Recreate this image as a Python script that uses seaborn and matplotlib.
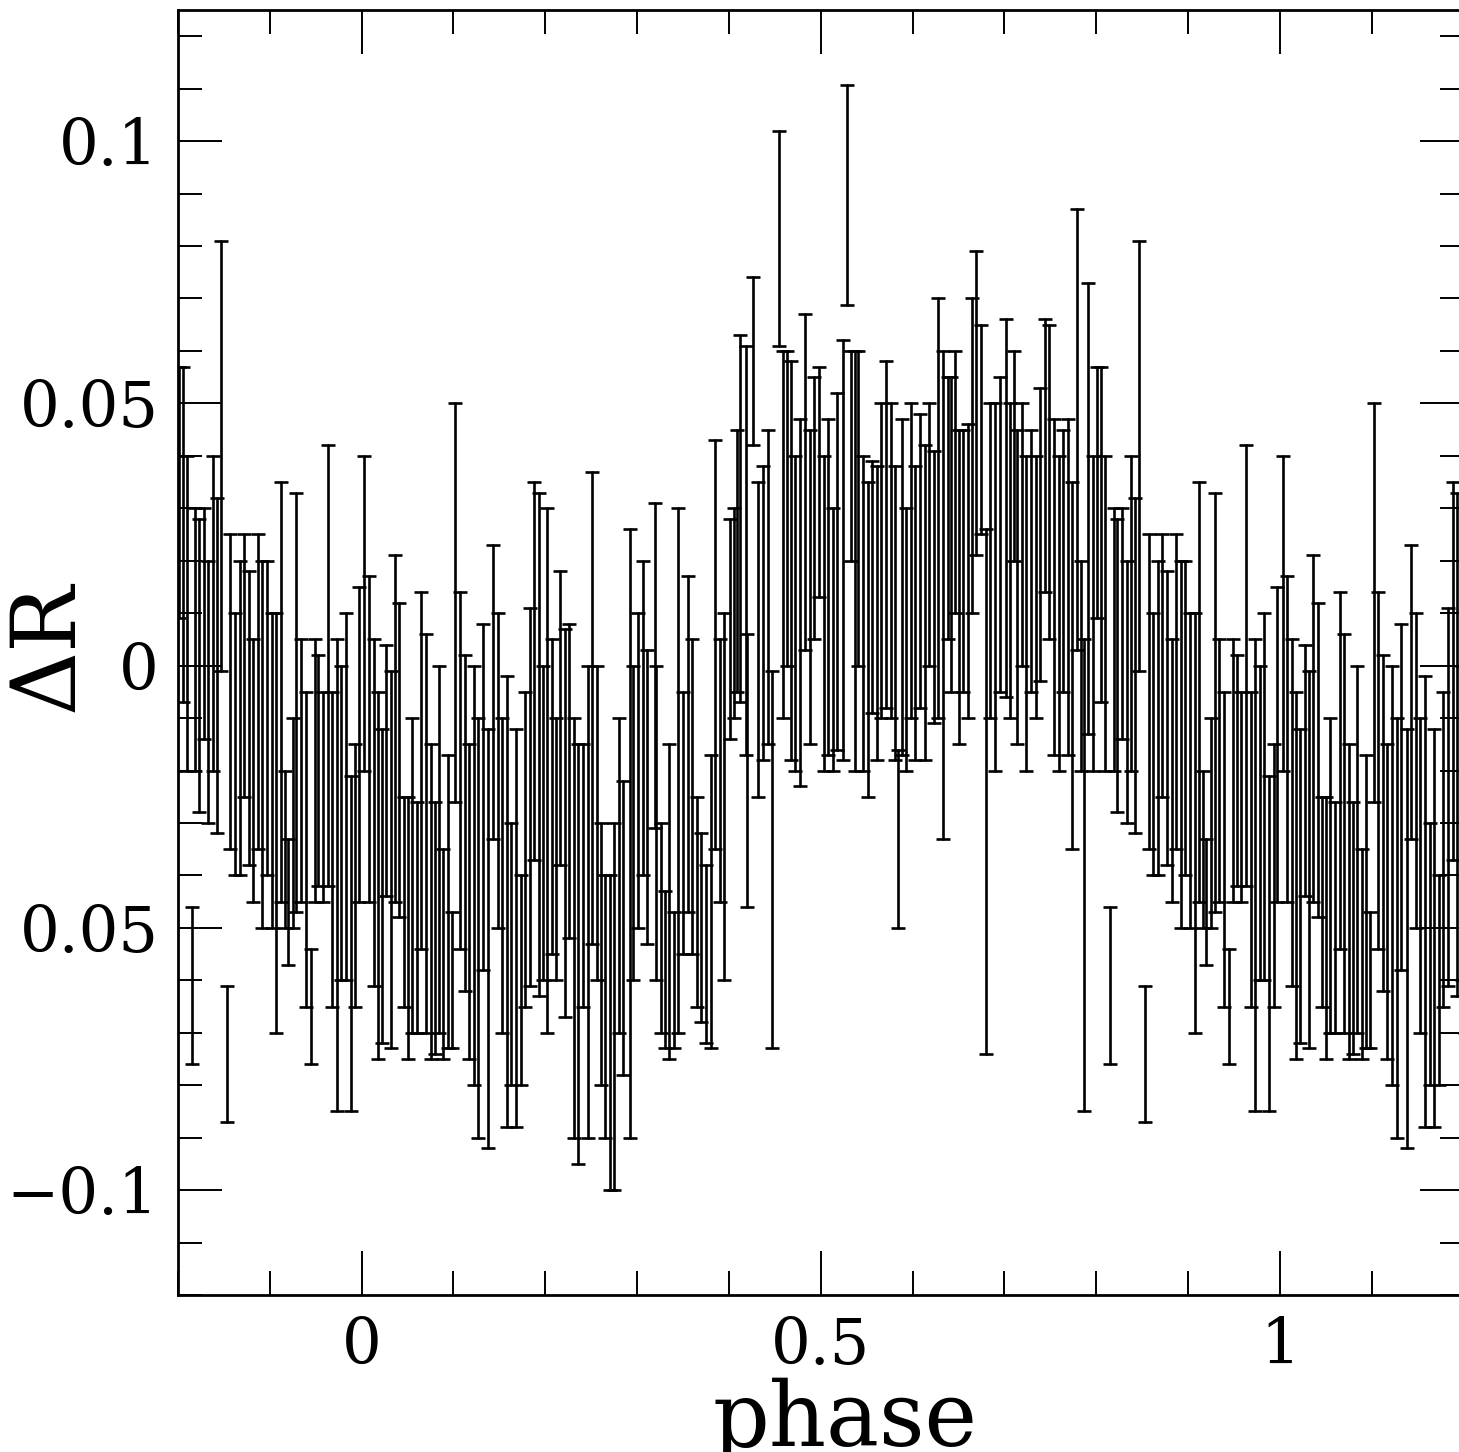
import numpy as np
import pandas as pd
import matplotlib
matplotlib.use('Agg')
import matplotlib.pyplot as plt
import seaborn as sns
from matplotlib.ticker import MultipleLocator, FixedLocator, FixedFormatter

sns.set_style('ticks')
plt.rcParams['font.family'] = ['DejaVu Serif', 'DejaVu Sans']
plt.rcParams['text.color'] = 'black'
plt.rcParams['axes.labelcolor'] = 'black'
plt.rcParams['xtick.color'] = 'black'
plt.rcParams['ytick.color'] = 'black'

# phase-folded points for one cycle (0..1); the plot repeats them at -1 and +1
phase = [
    0.003, 0.008, 0.013, 0.018, 0.022, 0.027, 0.032, 0.036, 0.041, 0.046,
    0.050, 0.055, 0.060, 0.065, 0.070, 0.075, 0.080, 0.084, 0.089, 0.094, 0.098,
    0.102, 0.107, 0.112, 0.117, 0.122, 0.127, 0.132, 0.138, 0.143, 0.148,
    0.153, 0.158, 0.163, 0.168, 0.173, 0.178, 0.183, 0.188, 0.193, 0.198,
    0.202, 0.207, 0.212, 0.216, 0.221, 0.226, 0.231, 0.236, 0.241, 0.246,
    0.251, 0.256, 0.261, 0.265, 0.270, 0.275, 0.280, 0.285, 0.292, 0.296,
    0.301, 0.306, 0.311, 0.319, 0.321, 0.326, 0.330, 0.335, 0.340, 0.345,
    0.350, 0.355, 0.360, 0.365, 0.370, 0.375, 0.380, 0.385, 0.390, 0.395,
    0.401, 0.405, 0.409, 0.412, 0.418, 0.420, 0.426, 0.432, 0.437, 0.442,
    0.447, 0.455, 0.459, 0.463, 0.468, 0.472, 0.477, 0.483, 0.488, 0.493, 0.498,
    0.503, 0.508, 0.513, 0.518, 0.524, 0.529, 0.533, 0.537, 0.541, 0.546,
    0.551, 0.556, 0.561, 0.566, 0.571, 0.576, 0.581, 0.584, 0.588, 0.593, 0.598,
    0.603, 0.608, 0.613, 0.618, 0.623, 0.628, 0.633, 0.638, 0.642, 0.646,
    0.650, 0.655, 0.660, 0.665, 0.669, 0.674, 0.680, 0.684, 0.690, 0.695,
    0.702, 0.706, 0.710, 0.714, 0.719, 0.724, 0.729, 0.734, 0.739, 0.744,
    0.749, 0.754, 0.759, 0.764, 0.769, 0.774, 0.779, 0.783, 0.787, 0.791, 0.796,
    0.801, 0.805, 0.810, 0.815, 0.819, 0.823, 0.828, 0.833, 0.838, 0.842,
    0.847, 0.853, 0.857, 0.862, 0.867, 0.872, 0.877, 0.882, 0.887, 0.892, 0.897,
    0.902, 0.907, 0.912, 0.916, 0.920, 0.925, 0.929, 0.934, 0.939, 0.945,
    0.949, 0.953, 0.958, 0.963, 0.968, 0.973, 0.978, 0.983, 0.988, 0.993, 0.997,
]
delta_r = [
    0.010, -0.014, -0.028, -0.040, -0.042, -0.020, -0.037, -0.012, -0.018, -0.045,
    -0.050, -0.040, -0.048, -0.020, -0.032, -0.045, -0.050, -0.035, -0.055, -0.045, -0.060,
    0.012, -0.020, -0.030, -0.045, -0.040, -0.050, -0.025, -0.052, -0.005, -0.020,
    -0.040, -0.045, -0.055, -0.050, -0.060, -0.035, -0.025, -0.001, -0.015, -0.030,
    -0.020, -0.025, -0.035, -0.010, -0.030, -0.022, -0.050, -0.055, -0.040, -0.045,
    -0.008, -0.030, -0.055, -0.065, -0.070, -0.065, -0.040, -0.050, -0.032, -0.030,
    -0.020, -0.010, -0.025, 0.000, -0.030, -0.050, -0.058, -0.045, -0.060, -0.020,
    -0.030, -0.015, -0.025, -0.045, -0.050, -0.055, -0.045, 0.004, -0.020, -0.025,
    0.007, 0.010, 0.020, 0.028, 0.022, -0.020, 0.058, 0.005, 0.010, 0.015,
    -0.037, 0.0815, 0.025, 0.030, 0.020, 0.010, 0.012, 0.035, 0.015, 0.030, 0.035,
    0.010, 0.015, 0.005, 0.018, 0.022, 0.0897, 0.040, 0.020, 0.030, 0.010,
    0.005, 0.015, 0.010, 0.020, 0.025, 0.020, 0.010, -0.033, 0.015, 0.005, 0.020,
    0.010, 0.020, 0.012, 0.025, 0.015, 0.030, 0.0135, 0.030, 0.025, 0.035,
    0.015, 0.020, 0.018, 0.040, 0.050, 0.045, -0.024, 0.020, 0.015, 0.025,
    0.030, 0.020, 0.040, 0.015, 0.025, 0.010, 0.020, 0.015, 0.025, 0.040,
    0.035, 0.015, 0.010, 0.020, 0.015, 0.000, 0.045, 0.000, -0.040, 0.030, 0.010,
    0.033, 0.025, 0.010, -0.061, 0.005, 0.000, 0.008, -0.005, 0.010, 0.000,
    0.040, -0.074, -0.005, -0.015, -0.010, 0.000, -0.010, -0.020, -0.005, -0.015, -0.010,
    -0.020, -0.030, -0.005, -0.035, -0.045, -0.030, -0.007, -0.020, -0.035, -0.065,
    -0.020, -0.020, -0.025, 0.000, -0.035, -0.040, -0.030, -0.025, -0.053, -0.040, -0.015,
]
err = [
    0.030, 0.031, 0.033, 0.035, 0.030, 0.024, 0.036, 0.033, 0.030, 0.020,
    0.025, 0.030, 0.022, 0.034, 0.038, 0.030, 0.024, 0.035, 0.020, 0.028, 0.013,
    0.038, 0.034, 0.032, 0.030, 0.040, 0.040, 0.033, 0.040, 0.028, 0.030,
    0.030, 0.043, 0.025, 0.038, 0.020, 0.030, 0.036, 0.036, 0.048, 0.030,
    0.050, 0.030, 0.025, 0.028, 0.037, 0.030, 0.040, 0.040, 0.025, 0.045,
    0.045, 0.030, 0.025, 0.025, 0.030, 0.035, 0.030, 0.028, 0.058, 0.030,
    0.030, 0.030, 0.028, 0.031, 0.030, 0.020, 0.015, 0.030, 0.013, 0.050,
    0.025, 0.032, 0.030, 0.020, 0.018, 0.017, 0.028, 0.039, 0.025, 0.035,
    0.021, 0.020, 0.025, 0.035, 0.039, 0.026, 0.016, 0.030, 0.028, 0.030,
    0.036, 0.0205, 0.035, 0.030, 0.038, 0.030, 0.035, 0.032, 0.030, 0.025, 0.022,
    0.030, 0.032, 0.025, 0.034, 0.040, 0.021, 0.020, 0.040, 0.030, 0.030,
    0.030, 0.024, 0.028, 0.030, 0.033, 0.030, 0.028, 0.017, 0.032, 0.025, 0.030,
    0.028, 0.028, 0.030, 0.025, 0.026, 0.040, 0.0465, 0.025, 0.030, 0.025,
    0.030, 0.025, 0.028, 0.030, 0.029, 0.020, 0.050, 0.030, 0.035, 0.030,
    0.036, 0.030, 0.020, 0.030, 0.025, 0.030, 0.025, 0.025, 0.028, 0.026,
    0.030, 0.032, 0.030, 0.025, 0.032, 0.035, 0.042, 0.020, 0.045, 0.043, 0.030,
    0.024, 0.032, 0.030, 0.015, 0.025, 0.028, 0.022, 0.025, 0.030, 0.032,
    0.041, 0.013, 0.030, 0.025, 0.030, 0.025, 0.028, 0.025, 0.030, 0.035, 0.030,
    0.030, 0.040, 0.040, 0.015, 0.012, 0.020, 0.040, 0.025, 0.030, 0.011,
    0.025, 0.022, 0.020, 0.042, 0.030, 0.045, 0.030, 0.035, 0.032, 0.025, 0.030,
]

ytick_vals = [-0.1, -0.05, 0.0, 0.05, 0.1]
ytick_text = ['\u22120.1', '0.05', '0', '0.05', '0.1']
xtick_vals = [0.0, 0.5, 1.0]
xtick_text = ['0', '0.5', '1']

# long form: each point gives its lower and upper end, so that the
# percentile interval (0-100) of seaborn's errorbar spans exactly c-e..c+e
rows = []
for shift in (-1, 0, 1):
    for p, c, e in zip(phase, delta_r, err):
        rows.append({'phase': p + shift, 'dR': c - e})
        rows.append({'phase': p + shift, 'dR': c + e})
df = pd.DataFrame(rows)
df = df[(df['phase'] > -0.21) & (df['phase'] < 1.21)]

fig = plt.figure(figsize=(14.59, 14.52), dpi=100)
ax = fig.add_axes([178 / 1459, 157 / 1452, 1285.6 / 1459, 1285 / 1452])

sns.lineplot(data=df, x='phase', y='dR', estimator='mean', errorbar=('pi', 100),
             err_style='bars', linestyle='', color='black', ax=ax,
             err_kws=dict(capsize=4.8, elinewidth=1.9, capthick=1.9))

ax.set_xlim(-0.2, 1.2)
ax.set_ylim(-0.12, 0.125)

ax.xaxis.set_major_locator(FixedLocator(xtick_vals))
ax.xaxis.set_major_formatter(FixedFormatter(xtick_text))
ax.xaxis.set_minor_locator(MultipleLocator(0.1))
ax.yaxis.set_major_locator(FixedLocator(ytick_vals))
ax.yaxis.set_major_formatter(FixedFormatter(ytick_text))
ax.yaxis.set_minor_locator(MultipleLocator(0.01))

ax.tick_params(which='both', direction='in', top=True, right=True, color='black')
ax.tick_params(which='major', length=32, width=1.4, labelsize=45, pad=15,
               labelcolor='black')
ax.tick_params(which='minor', length=17, width=1.4)
ax.tick_params(axis='y', which='major', pad=14)

for s in ax.spines.values():
    s.set_linewidth(2.0)
    s.set_color('black')

ax.set_xlabel('phase', fontsize=64, color='black')
ax.xaxis.set_label_coords(0.519, -0.064)
ax.set_ylabel('\u0394R', fontsize=64, color='black')
ax.yaxis.set_label_coords(-0.067, 0.505)
ax.grid(False)

fig.savefig('out.png', dpi=100)
